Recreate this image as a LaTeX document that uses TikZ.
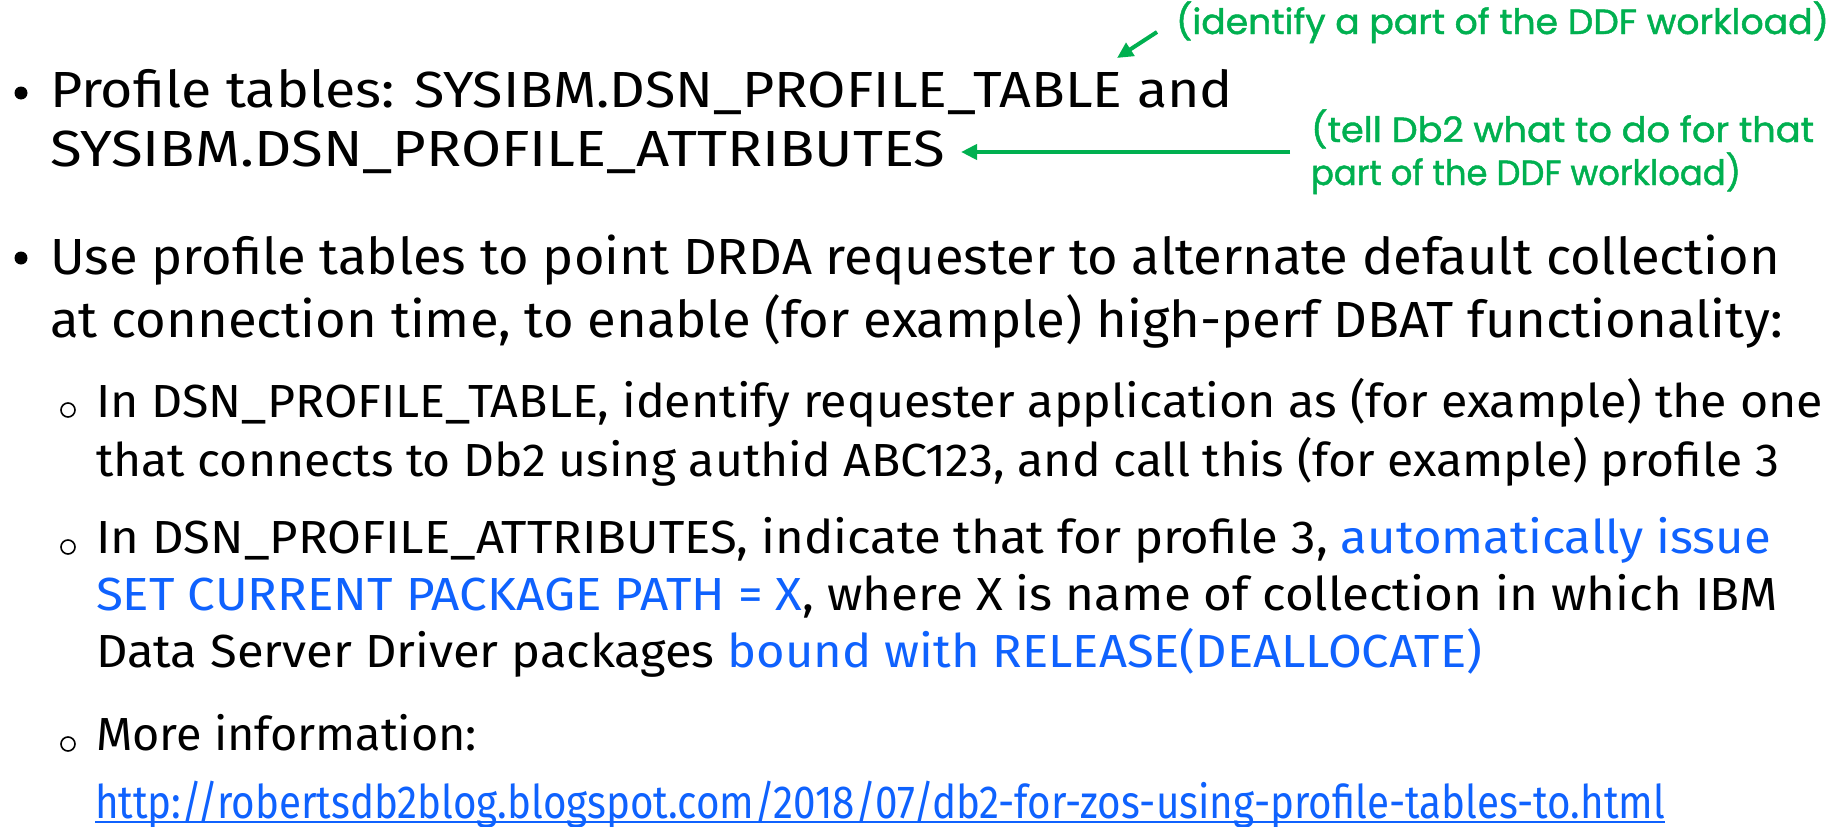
\documentclass[tikz,border=0pt]{standalone}
\usepackage{fontspec}
\setmainfont{Fira Sans}
\newfontfamily\gfont{Poppins}[FakeBold=1.3]
\usetikzlibrary{arrows.meta}
\definecolor{ibmblue}{HTML}{0F62FE}
\definecolor{ggreen}{HTML}{00B050}
\newcommand\fitw[2]{\resizebox{#1}{\height}{#2}}
\newcommand\myul[1]{{\setbox0\hbox{#1}\rlap{\rule[-5pt]{\wd0}{1.6pt}}\box0}}
\begin{document}
\begin{tikzpicture}[x=1pt,y=-1pt,
 ln/.style={anchor=base west,inner sep=0pt,outer sep=0pt},
 mainfnt/.style={ln,font=\fontsize{50.8}{60}\selectfont},
 subfnt/.style={ln,font=\fontsize{46.4}{56}\selectfont},
 grn/.style={ln,text=ggreen,font=\gfont\fontsize{35}{42}\selectfont},
 dotb/.style={fill=black,circle,inner sep=0pt,minimum size=13pt},
 circb/.style={draw=black,line width=1.6pt,circle,inner sep=0pt,minimum size=14pt},
 garrow/.style={draw=ggreen,line width=4pt,-{Triangle[length=16pt,width=15pt]}}]
\fill[white] (0,0) rectangle (1847,827);
\useasboundingbox (0,0) rectangle (1847,827);
% bullet 1
\node[dotb] (b1) at (21,93) {};
\node[mainfnt] (l1) at (50,107) {\fitw{1183pt}{Profile tables: SYSIBM.DSN\_PROFILE\_TABLE and}};
\node[mainfnt] (l2) at (50,166) {\fitw{895pt}{SYSIBM.DSN\_PROFILE\_ATTRIBUTES}};
% bullet 2
\node[dotb] (b2) at (21,258) {};
\node[mainfnt] (l3) at (50,274) {\fitw{1730pt}{Use profile tables to point DRDA requester to alternate default collection}};
\node[mainfnt] (l4) at (50,337) {\fitw{1733pt}{at connection time, to enable (for example) high-perf DBAT functionality:}};
% sub 1
\node[circb] (c1) at (68,410) {};
\node[subfnt] (s1a) at (96,417) {\fitw{1727pt}{In DSN\_PROFILE\_TABLE, identify requester application as (for example) the one}};
\node[subfnt] (s1b) at (96,476) {\fitw{1683pt}{that connects to Db2 using authid ABC123, and call this (for example) profile 3}};
% sub 2
\node[circb] (c2) at (68,547) {};
\node[subfnt] (s2a) at (96,553) {\fitw{1675pt}{In DSN\_PROFILE\_ATTRIBUTES, indicate that for profile 3, \textcolor{ibmblue}{automatically issue}}};
\node[subfnt] (s2b) at (96,610) {\fitw{1682pt}{\textcolor{ibmblue}{SET CURRENT PACKAGE PATH = X}, where X is name of collection in which IBM}};
\node[subfnt] (s2c) at (96,667) {\fitw{1386pt}{Data Server Driver packages \textcolor{ibmblue}{bound with RELEASE(DEALLOCATE)}}};
% sub 3
\node[circb] (c3) at (68,744) {};
\node[subfnt] (s3) at (96,750) {\fitw{381pt}{More information:}};
\node[subfnt,text=ibmblue] (lk) at (95,818) {\fitw{1570pt}{\myul{http://robertsdb2blog.blogspot.com/2018/07/db2-for-zos-using-profile-tables-to.html}}};
% green annotations
\node[grn] (g1) at (1176,34) {\fitw{653pt}{(identify a part of the DDF workload)}};
\node[grn] (g2) at (1311,142) {\fitw{503pt}{(tell Db2 what to do for that}};
\node[grn] (g3) at (1311,185) {\fitw{430pt}{part of the DDF workload)}};
% arrows
\coordinate (a1s) at (1157,32);
\coordinate (a1e) at (1117,58);
\draw[garrow] (a1s) -- (a1e);
\coordinate (a2s) at (1290,152);
\coordinate (a2e) at ([xshift=16pt]l2.east);
\draw[garrow] (a2s) -- (a2e |- a2s);
\end{tikzpicture}
\end{document}
